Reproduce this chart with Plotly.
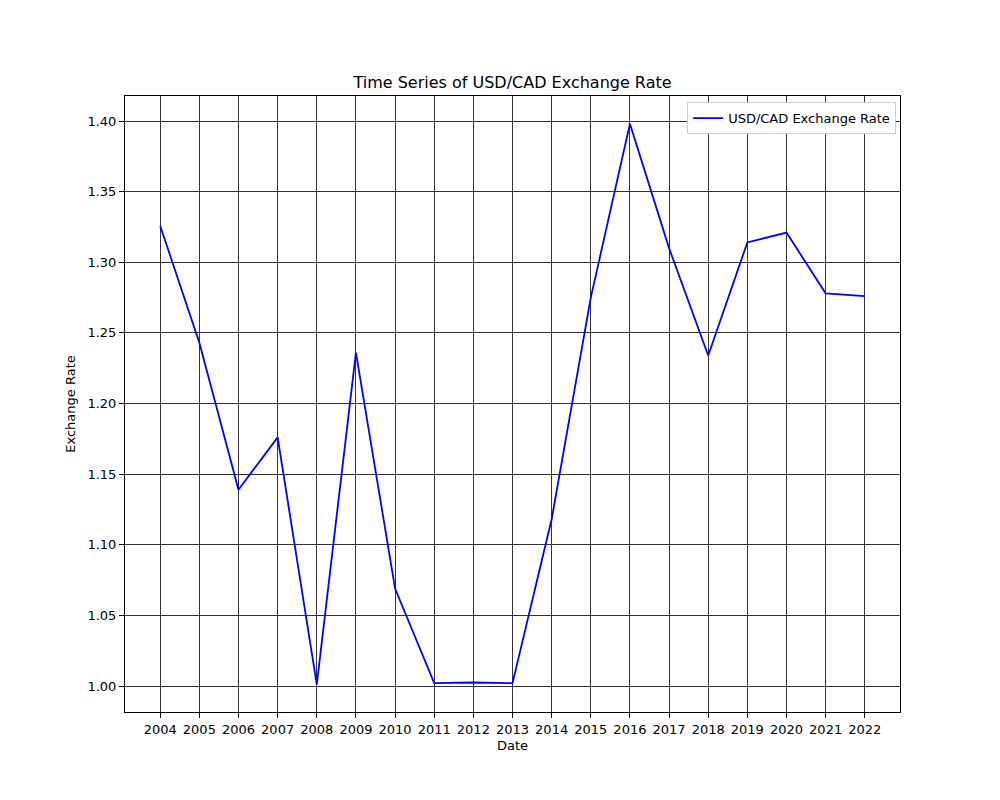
import plotly.graph_objects as go

years = list(range(2004, 2023))
rates = [1.3257, 1.243, 1.139, 1.176, 1.001, 1.236, 1.069, 1.002, 1.0025, 1.002,
         1.118, 1.275, 1.398, 1.310, 1.234, 1.314, 1.321, 1.278, 1.276]
yticks = [1.00, 1.05, 1.10, 1.15, 1.20, 1.25, 1.30, 1.35, 1.40]

fig = go.Figure(go.Scatter(x=years, y=rates, mode="lines", name="USD/CAD Exchange Rate",
                           line=dict(color="blue", width=1.8), showlegend=True))
fig.update_layout(
    width=1000, height=800, paper_bgcolor="white", plot_bgcolor="white",
    margin=dict(l=117, r=108, t=88, b=96),
    font=dict(family="DejaVu Sans", size=13, color="black"),
    title=dict(text="Time Series of USD/CAD Exchange Rate", x=(117 + 892) / 2 / 1000, xanchor="center",
               y=1 - 74/800, yanchor="middle", font=dict(size=16)),
    legend=dict(x=0.995, y=0.99, xanchor="right", yanchor="top", bordercolor="#ccc",
                borderwidth=1, bgcolor="white", font=dict(size=13)),
)
fig.update_xaxes(range=[2003.1, 2022.9], tickvals=years, ticktext=[str(y) for y in years],
                 showgrid=True, gridcolor="#333", gridwidth=0.6, showline=True, linecolor="black",
                 mirror=True, ticks="outside", tickcolor="black", zeroline=False,
                 title=dict(text="Date", standoff=5, font=dict(size=13)))
fig.update_yaxes(range=[0.9816, 1.4177], tickvals=yticks, ticktext=[f"{v:.2f}" for v in yticks],
                 showgrid=True, gridcolor="#333", gridwidth=0.6, showline=True, linecolor="black",
                 mirror=True, ticks="outside", tickcolor="black", zeroline=False,
                 title=dict(text="Exchange Rate", standoff=8, font=dict(size=13)))
fig.write_html("out.html")
